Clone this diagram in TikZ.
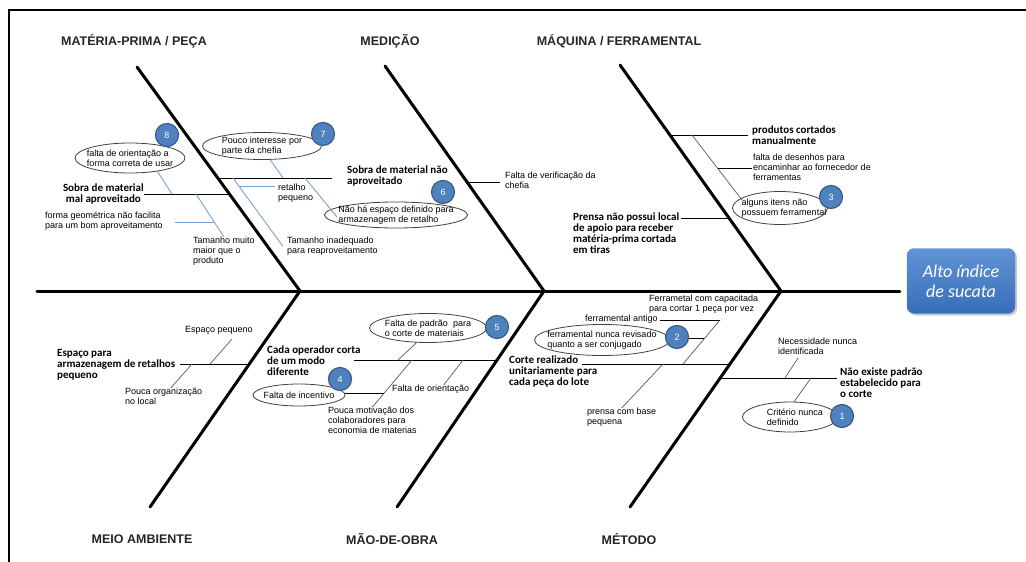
\documentclass[tikz,border=0pt]{standalone}
\usepackage{fontspec}
\setmainfont{Liberation Sans}
\newfontfamily\calib{Carlito}
\usetikzlibrary{shapes.geometric,shadows,calc}
\definecolor{ramo}{RGB}{122,160,208}
\definecolor{selo}{RGB}{79,129,189}
\definecolor{seloborda}{RGB}{56,93,138}
\definecolor{caixacima}{RGB}{96,148,214}
\definecolor{caixabaixo}{RGB}{56,110,184}

\begin{document}
\begin{tikzpicture}[x=1pt, y=-1pt,
    bone/.style={line width=3pt, line cap=round},
    cause/.style={line width=0.9pt},
    bsub/.style={draw=ramo, line width=0.9pt},
    gsub/.style={draw=black!65, line width=0.7pt},
    cat/.style={font=\fontsize{12.5}{14}\selectfont\bfseries, text=black!85},
    lbl/.style={font=\fontsize{9}{10}\selectfont, align=left, inner sep=0pt},
    blbl/.style={font=\calib\bfseries\fontsize{11}{11}\selectfont, align=left, inner sep=0pt},
    oval/.style={ellipse, draw=black!75, line width=0.8pt, inner sep=0pt},
    badge/.style={circle, fill=selo, draw=seloborda, line width=1.2pt, minimum size=23pt,
      inner sep=0pt, text=white, font=\fontsize{9}{10}\selectfont},
    effect/.style={rounded corners=7pt, top color=caixacima, bottom color=caixabaixo,
      draw=caixabaixo!80!white, minimum width=108, minimum height=65, align=center,
      text=white, font=\calib\itshape\fontsize{18}{20}\selectfont,
      drop shadow={opacity=0.4, shadow xshift=2pt, shadow yshift=-2pt}}]
  \useasboundingbox (0,0) rectangle (1026,562);
  \coordinate (fa) at (9,562);
  \coordinate (fb) at (9,10);
  \coordinate (fc) at (1026,10);
  \draw[line width=2pt] (fa) -- (fb) -- (fc);

  % espinha
  \node[effect] (head) at (961,281) {Alto índice\\de sucata};
  \coordinate (tail) at (37,291);
  \draw[bone, shorten >=7pt] (tail) -- (head.west |- tail);
  \coordinate (j1) at (300,291);
  \coordinate (j2) at (544,291);
  \coordinate (j3) at (781,291);
  \coordinate (t1) at (137,67);
  \coordinate (t2) at (385,66);
  \coordinate (t3) at (620,65);
  \coordinate (b1) at (150,507);
  \coordinate (b2) at (397,507);
  \coordinate (b3) at (630,507);
  \draw[bone] (t1) -- (j1) -- (b1);
  \draw[bone] (t2) -- (j2) -- (b2);
  \draw[bone] (t3) -- (j3) -- (b3);

  \node[cat] (catmp) at (134,41) {MATÉRIA-PRIMA / PEÇA};
  \node[cat] (catmed) at (390,41) {MEDIÇÃO};
  \node[cat] (catmaq) at (619,41) {MÁQUINA / FERRAMENTAL};
  \node[cat] (catamb) at (142,539) {MEIO AMBIENTE};
  \node[cat] (catmo) at (392,539) {MÃO-DE-OBRA};
  \node[cat] (catmet) at (629,539) {MÉTODO};

  % materia-prima
  \node[blbl, align=center, anchor=east] (sobra1) at (144,194) {Sobra de material\\mal aproveitado};
  \coordinate (m1) at (229,194);
  \draw[cause] (sobra1.east) -- (m1);
  \node[oval, minimum width=110, minimum height=30, label={[lbl]center:{falta de orientação a\\forma correta de usar}}] (o8) at (130,158) {};
  \node[badge] (bd8) at (167,135) {8};
  \node[lbl, anchor=north west] (forma) at (45,212) {forma geométrica não facilita\\para um bom aproveitamento};
  \node[lbl, anchor=north west] (tam1) at (193,237) {Tamanho muito\\maior que o\\produto};
  \coordinate (m1a) at (172,194);
  \coordinate (m1b) at (196,194);
  \draw[bsub] (o8.334) -- (m1a);
  \draw[bsub] (m1b) -- (tam1.north);
  \coordinate (m1c) at ($(m1b)!0.65!(tam1.north)$);
  \draw[bsub] ([xshift=12pt]forma.east |- m1c) -- (m1c);

  % medicao
  \coordinate (m2) at (219,178);
  \node[blbl, anchor=north west] (sobra2) at (347,166) {Sobra de material não\\aproveitado};
  \draw[cause] (m2) -- ([xshift=-15pt]sobra2.west |- m2);
  \node[oval, minimum width=119, minimum height=27, label={[lbl]center:{Pouco interesse por\\parte da chefia}}] (o7) at (262,146) {};
  \node[badge] (bd7) at (323,134) {7};
  \node[oval, minimum width=143, minimum height=26, label={[lbl]center:{Não há espaço definido para\\armazenagem de retalho}}] (o6) at (396,215) {};
  \node[badge] (bd6) at (443,192) {6};
  \node[lbl, anchor=north west] (ret) at (278,184) {retalho\\pequeno};
  \node[lbl, anchor=north west] (tam2) at (287,237) {Tamanho inadequado\\para reaproveitamento};
  \coordinate (m2a) at (233,178);
  \coordinate (m2b) at (283,178);
  \coordinate (m2c) at (305,178);
  \coordinate (o6in) at (337,217);
  \draw[bsub] (m2a) -- ([xshift=-4pt]tam2.west);
  \coordinate (m2d) at ($(m2a)!0.13!([xshift=-4pt]tam2.west)$);
  \draw[bsub] (m2d) -- ([xshift=-3pt]ret.north west |- m2d);
  \draw[bsub] (o7.301) -- (m2b);
  \draw[bsub] (m2c) -- (o6in);
  \coordinate (m2e) at (467,182);
  \node[lbl, anchor=north west] (verif) at (505,172) {Falta de verificação da\\chefia};
  \draw[cause] (m2e) -- ([xshift=-5pt]verif.west |- m2e);

  % maquina
  \coordinate (m3) at (670,135);
  \node[blbl, anchor=north west] (prod) at (752,126) {produtos cortados\\manualmente};
  \draw[cause] (m3) -- ([xshift=-4pt]prod.north west |- m3);
  \node[lbl, anchor=north west] (desen) at (753,154) {falta de desenhos para\\encaminhar ao fornecedor de\\ferramentas};
  \node[oval, minimum width=95, minimum height=33, label={[lbl, xshift=4pt]center:{alguns itens não\\possuem ferramental}}] (o3) at (780,208) {};
  \node[badge] (bd3) at (831,197) {3};
  \coordinate (m3a) at (692,135);
  \coordinate (o3in) at (742,200);
  \draw[gsub] (m3a) -- (o3in);
  \coordinate (m3b) at ($(m3a)!0.51!(o3in)$);
  \draw[cause] (m3b) -- ([xshift=-1pt]desen.west |- m3b);
  \node[blbl, anchor=north west] (prensa) at (573,213) {Prensa não possui local\\de apoio para receber\\matéria-prima cortada\\em tiras};
  \coordinate (m4) at (729,218);
  \draw[cause] ([xshift=2pt]prensa.north east |- m4) -- (m4);

  % meio ambiente
  \node[blbl, anchor=north west] (espaco) at (57,349) {Espaço para\\armazenagem de retalhos\\pequeno};
  \coordinate (e1) at (249,364);
  \draw[cause] ([xshift=5pt]espaco.east |- e1) -- (e1);
  \node[lbl, anchor=north west] (peq) at (185,326) {Espaço pequeno};
  \node[lbl, anchor=north west] (org) at (125,388) {Pouca organização\\no local};
  \coordinate (e1a) at (210,364);
  \coordinate (e1b) at (192,364);
  \coordinate (e1at) at (232,339);
  \draw[gsub] (e1a) -- (e1at);
  \draw[gsub] (e1b) -- ([xshift=7pt]org.north);

  % mao-de-obra
  \node[blbl, anchor=north west] (cada) at (267,346) {Cada operador corta\\de um modo\\diferente};
  \coordinate (e2) at (497,360);
  \draw[cause] ([xshift=-7pt]cada.east |- e2) -- (e2);
  \node[oval, minimum width=117, minimum height=29, label={[lbl]center:{Falta de padrão\ \ para\\o corte de materiais}}] (o5) at (428,328) {};
  \node[badge] (bd5) at (497,327) {5};
  \node[oval, minimum width=92, minimum height=22, label={[lbl]center:{Falta de incentivo}}] (o4) at (299,395) {};
  \node[badge] (bd4) at (340,379) {4};
  \node[lbl, anchor=north west] (motiv) at (328,407) {Pouca motivação dos\\colaboradores para\\economia de materias};
  \node[lbl, anchor=north west] (orient) at (392,385) {Falta de orientação};
  \coordinate (e2a) at (398,360);
  \coordinate (e2b) at (412,360);
  \coordinate (e2d) at (463,360);
  \draw[gsub] (o5.232) -- (e2a);
  \draw[gsub] (e2b) -- (motiv.north);
  \coordinate (e2c) at ($(e2b)!0.72!(motiv.north)$);
  \draw[cause] (o4.east |- e2c) -- (e2c);
  \draw[gsub] (e2d) -- ([xshift=13pt]orient.north);

  % metodo
  \node[blbl, anchor=north west] (corte) at (509,356) {Corte realizado\\unitariamente para\\cada peça do lote};
  \coordinate (e3) at (730,364);
  \coordinate (e3s) at (582,364);
  \draw[cause] (e3s) -- (e3);
  \node[lbl, anchor=north west] (capac) at (649,295) {Ferrametal com capacitada\\para cortar 1 peça por vez};
  \node[lbl, anchor=north west] (antigo) at (585,315) {ferramental antigo};
  \node[oval, minimum width=135, minimum height=31, label={[lbl]center:{ferramental nunca revisado\\quanto a ser conjugado}}] (o2) at (602,340) {};
  \node[badge] (bd2) at (677,337) {2};
  \node[lbl, anchor=north west] (pbase) at (587,408) {prensa com base\\pequena};
  \coordinate (e3a) at (683,364);
  \coordinate (e3at) at (720,320);
  \coordinate (e3c) at (663,364);
  \draw[gsub] (e3a) -- (e3at);
  \draw[cause] ([xshift=2pt]antigo.east |- e3at) -- (e3at);
  \coordinate (e3b) at ($(e3a)!0.57!(e3at)$);
  \draw[cause] (bd2.east |- e3b) -- (e3b);
  \draw[gsub] (e3c) -- (pbase.north);
  \coordinate (e4) at (720,378);
  \node[blbl, anchor=north west] (naoex) at (840,368) {Não existe padrão\\estabelecido para\\o corte};
  \draw[cause] (e4) -- ([xshift=-3pt]naoex.north west |- e4);
  \node[lbl, anchor=north west] (necess) at (778,338) {Necessidade nunca\\identificada};
  \node[oval, minimum width=95, minimum height=30, label={[lbl, xshift=5pt]center:{Critério nunca\\definido}}] (o1) at (790,417) {};
  \node[badge] (bd1) at (842,416) {1};
  \coordinate (e4a) at (785,378);
  \coordinate (e4at) at (798,358);
  \coordinate (e4b) at (811,378);
  \draw[gsub] (e4a) -- (e4at);
  \draw[gsub] (e4b) -- (o1.75);
\end{tikzpicture}
\end{document}
